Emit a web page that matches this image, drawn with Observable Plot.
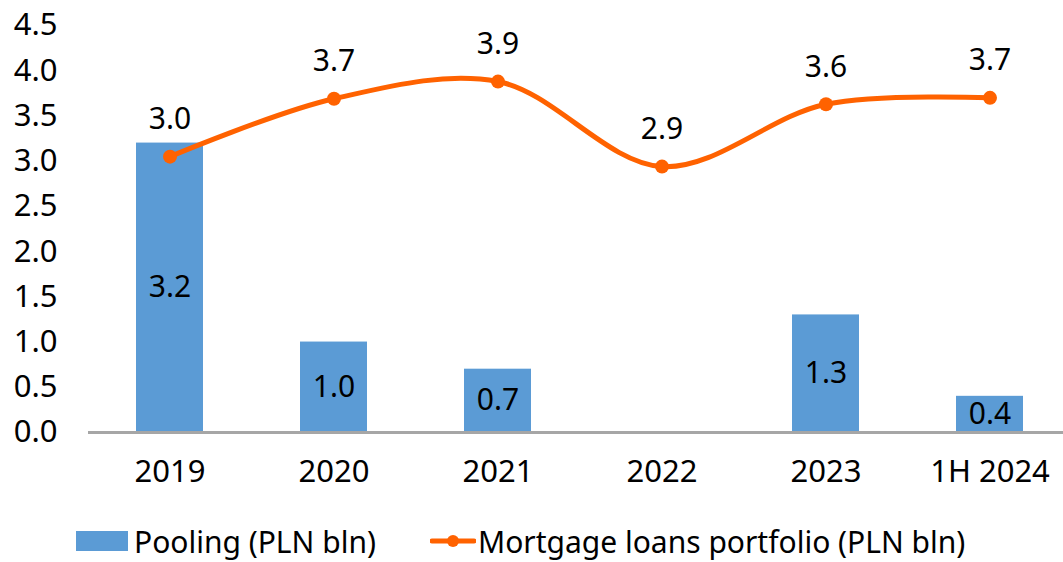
<!DOCTYPE html>
<html><head><meta charset="utf-8">
<script src="https://cdn.jsdelivr.net/npm/d3@7"></script>
<script src="https://cdn.jsdelivr.net/npm/@observablehq/plot@0.6"></script>
<style>
body{margin:0;background:#fff;font-family:"Noto Sans",sans-serif;}
#legend{display:flex;align-items:center;height:62px;font-size:30px;color:#000;}
.sw{display:inline-block}
</style></head>
<body><div id="chart"></div><div id="legend"></div>
<script>
const categories = ["2019","2020","2021","2022","2023","1H 2024"];
const pooling = [3.2, 1.0, 0.7, 0, 1.3, 0.4];
const portfolio = [3.05, 3.69, 3.88, 2.94, 3.63, 3.70];
const poolingLabels = ["3.2","1.0","0.7","","1.3","0.4"];
const portfolioLabels = ["3.0","3.7","3.9","2.9","3.6","3.7"];
const yTicks = [0,0.5,1,1.5,2,2.5,3,3.5,4,4.5];

const blue = "#5B9BD5", orange = "#FF6200";
const rows = categories.map((c,i)=>({c, p: pooling[i], m: portfolio[i], pl: poolingLabels[i], ml: portfolioLabels[i]}));
const font = "Noto Sans, sans-serif";

const chart = Plot.plot({
  width: 1063, height: 510,
  marginLeft: 88, marginRight: 0, marginTop: 25, marginBottom: 78,
  style: {fontFamily: font, fontSize: "31px", color: "#000", background: "#fff"},
  x: {type: "band", domain: categories, range: [88, 1072], paddingInner: 0.59, paddingOuter: 0.295, label: null},
  y: {domain: [0, 4.5], label: null},
  marks: [
    Plot.axisX({tickSize: 0, tickPadding: 27, fontSize: 31, fill: "#000", label: null}),
    Plot.axisY(yTicks, {tickSize: 0, tickPadding: 31, fontSize: 31, fill: "#000", tickFormat: d3.format(".1f"), label: null}),
    Plot.barY(rows, {x: "c", y: "p", fill: blue}),
    Plot.ruleY([0], {stroke: "#A6A6A6", strokeWidth: 3}),
    Plot.text(rows.filter(d=>d.pl), {x: "c", y: d=>d.p/2, text: "pl", fontSize: 30, fill: "#000"}),
    Plot.line(rows, {x: "c", y: "m", stroke: orange, strokeWidth: 5, curve: "catmull-rom"}),
    Plot.dot(rows, {x: "c", y: "m", r: 7, fill: orange}),
    Plot.text(rows, {x: "c", y: "m", text: "ml", dy: -37, fontSize: 30, fill: "#000"})
  ]
});
document.getElementById("chart").appendChild(chart);

const lg = document.getElementById("legend");
lg.innerHTML = `<span style="width:76px"></span><span class="sw" style="width:52px;height:20px;background:${blue}"></span><span style="margin-left:6px">Pooling (PLN bln)</span>
<span style="width:54px"></span>
<svg width="46" height="20" style="display:inline-block"><line x1="2" y1="10" x2="44" y2="10" stroke="${orange}" stroke-width="5" stroke-linecap="round"/><circle cx="23" cy="10" r="6" fill="${orange}"/></svg><span style="margin-left:2px">Mortgage loans portfolio (PLN bln)</span>`;
</script></body></html>
